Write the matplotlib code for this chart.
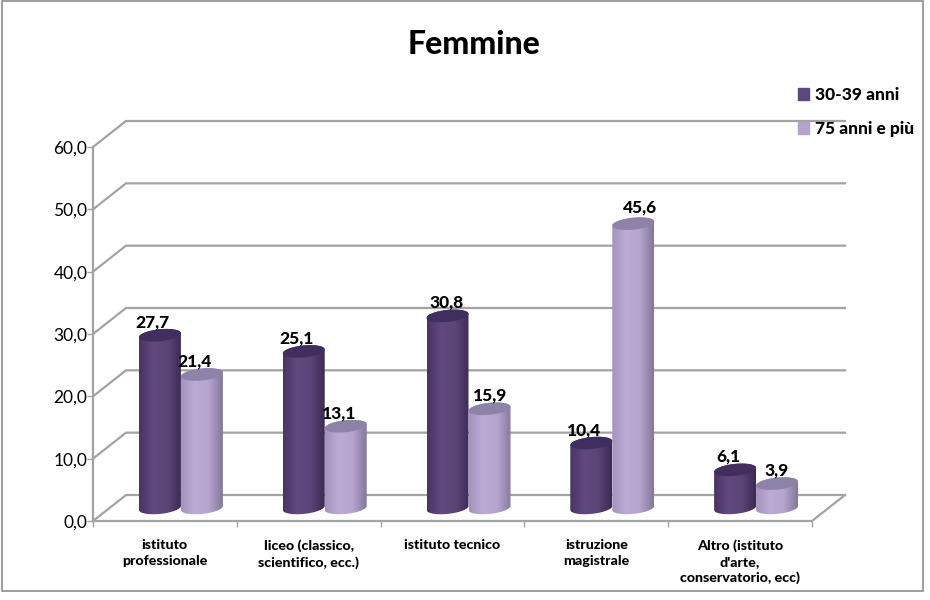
import numpy as np
import matplotlib
matplotlib.use('Agg')
import matplotlib.pyplot as plt
from matplotlib.colors import LinearSegmentedColormap
from matplotlib.patches import Patch, Polygon, Rectangle

plt.rcParams['font.family'] = ['Lato', 'DejaVu Sans']

categories = ['istituto\nprofessionale', 'liceo (classico,\nscientifico, ecc.)',
              'istituto tecnico', 'istruzione\nmagistrale',
              "Altro (istituto\nd'arte,\nconservatorio, ecc)"]
young = [27.7, 25.1, 30.8, 10.4, 6.1]
old = [21.4, 13.1, 15.9, 45.6, 3.9]
y_ticks = [0, 10, 20, 30, 40, 50, 60]
y_labels = ['0,0', '10,0', '20,0', '30,0', '40,0', '50,0', '60,0']
series_names = ['30-39 anni', '75 anni e più']

GRID = '#a3a3a3'
dark_map = LinearSegmentedColormap.from_list('d', ['#4a3464', '#5f4a80', '#5a4579', '#3c2a55'])
light_map = LinearSegmentedColormap.from_list('l', ['#a394ba', '#bdabd8', '#b5a4cd', '#85789b'])
dark_cap = '#422e5e'
light_cap = '#8f82a8'
HEAVY = 900

fig = plt.figure(figsize=(9.3, 6), dpi=100)
fig.add_artist(Rectangle((2 / 930, 1 - 591 / 600), 921 / 930, 590 / 600, transform=fig.transFigure,
                         fill=False, edgecolor='#8c8c8c', linewidth=1.2))
ax = fig.add_axes([93 / 930, 1 - 521 / 600, 719 / 930, 374 / 600])

# one pixel in data units, the 3d look is only an offset
px_x = 5 / 719
px_y = 60 / 374
depth_x = 33 * px_x
depth_y = 26 * px_y

for v in y_ticks:
    ax.plot([0, depth_x, 5 + depth_x], [v, v + depth_y, v + depth_y], color=GRID, lw=1.6,
            clip_on=False, zorder=1, solid_joinstyle='miter')
ax.plot([5, 5 + depth_x], [0, depth_y], color=GRID, lw=1.6, clip_on=False, zorder=1)


def cylinder(center, value, cmap, cap_color):
    half = 21 * px_x
    ry = 6 * px_y
    base = 2.1
    t1 = np.linspace(np.pi, 2 * np.pi, 40)
    t2 = np.linspace(0, np.pi, 40)
    tilt = 2 * px_y

    def ell(t, y0):
        return center + half * np.cos(t), y0 + ry * np.sin(t) + tilt * np.cos(t)

    top = base + value
    xb, yb = ell(t1, base)
    xt, yt = ell(t2, top)
    outline = Polygon(np.column_stack([np.r_[xb, xt], np.r_[yb, yt]]), closed=True,
                      facecolor='none', edgecolor='none', transform=ax.transData)
    ax.add_patch(outline)
    im = ax.imshow(np.linspace(0, 1, 64).reshape(1, -1), cmap=cmap, aspect='auto',
                   extent=[center - half, center + half, base - 2, top + 2],
                   interpolation='bilinear', zorder=3)
    im.set_clip_path(outline)
    xc, yc = ell(np.linspace(0, 2 * np.pi, 80), top)
    ax.fill(xc, yc, color=cap_color, lw=0, zorder=3.1)


young_nudge = [0, 0, 6, 0, 0]
old_nudge = [0, 0, 8, 14, 6]
old_lift = [0, 0, 0, 3, 0]
for i in range(len(categories)):
    c_left = i + 0.5 + 16 * px_x - 21 * px_x
    c_right = i + 0.5 + 16 * px_x + 21 * px_x
    cylinder(c_left, young[i], dark_map, dark_cap)
    cylinder(c_right, old[i], light_map, light_cap)
    for xpos, val, nudge, lift in ((c_left, young[i], young_nudge[i], 0),
                                   (c_right, old[i], old_nudge[i], old_lift[i])):
        ax.annotate(f'{val:.1f}'.replace('.', ','), (xpos, val + 2.1),
                    xytext=((nudge - 7) * 0.72, (13 + lift) * 0.72), textcoords='offset points',
                    ha='center', va='center', fontsize=12.5, fontweight=HEAVY, color='black',
                    zorder=5, annotation_clip=False)

ax.set_xlim(0, 5)
ax.set_ylim(0, 60)
ax.patch.set_alpha(0)
for s in ('top', 'right'):
    ax.spines[s].set_visible(False)
for s in ('left', 'bottom'):
    ax.spines[s].set_color(GRID)
    ax.spines[s].set_linewidth(1.6)
ax.set_yticks(y_ticks)
ax.set_yticklabels(y_labels, fontsize=12.5)
ax.set_xticks(range(6))
ax.set_xticklabels([])
ax.set_xticks(np.arange(5) + 0.5, categories, minor=True, fontsize=10.3, fontweight=HEAVY,
              linespacing=1.38)
ax.tick_params(axis='x', which='major', length=4, width=1, color=GRID)
ax.tick_params(axis='x', which='minor', length=0, pad=13)
ax.tick_params(axis='y', length=4, width=1, color=GRID, pad=0)

fig.text(474 / 930, 1 - 45 / 600, 'Femmine', ha='center', va='center', fontsize=23, fontweight=HEAVY)

handles = [Patch(color='#5d487c', label=series_names[0]), Patch(color='#b3a2cb', label=series_names[1])]
fig.legend(handles=handles, loc='upper left', bbox_to_anchor=(798 / 930, 1 - 87 / 600), frameon=False,
           prop={'size': 12.5, 'weight': HEAVY}, handlelength=0.63, handleheight=0.63,
           handletextpad=0.35, labelspacing=1.05, borderpad=0, borderaxespad=0)

fig.savefig('out.png', dpi=100)
